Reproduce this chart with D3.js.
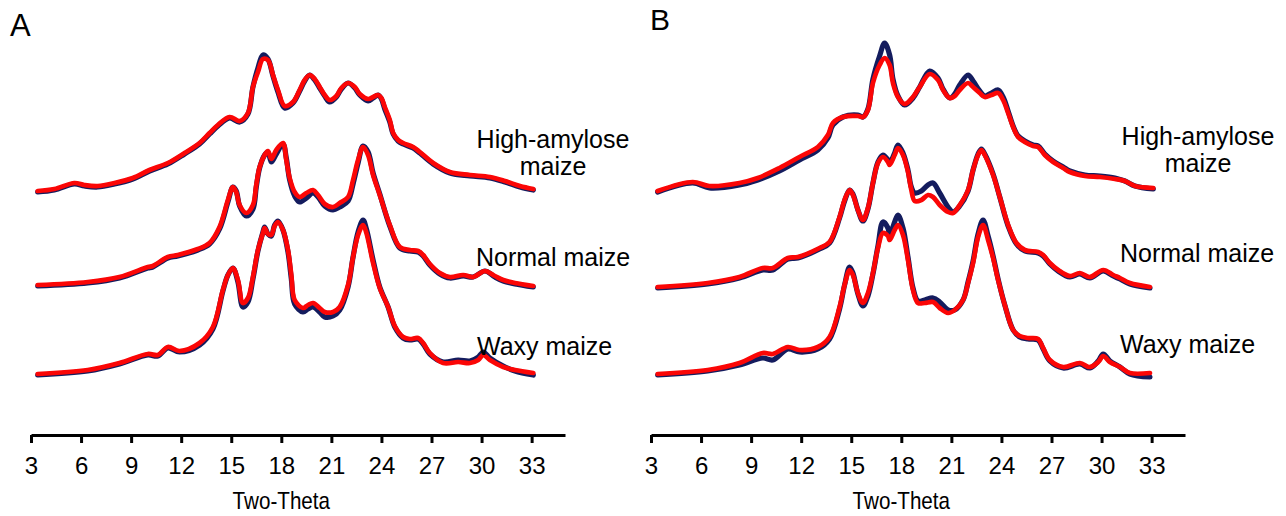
<!DOCTYPE html>
<html><head><meta charset="utf-8">
<script src="https://cdn.jsdelivr.net/npm/d3@7/dist/d3.min.js"></script>
<style>
html,body{margin:0;padding:0;background:#fff;}
text{font-family:"Liberation Sans",Arial,Helvetica,sans-serif;fill:#000;}
</style></head>
<body>
<svg id="chart" width="1286" height="516"></svg>
<script>
// ---------- data (2θ in degrees, intensity in arbitrary units above each trace's baseline) ----------
const tickValues = [3,6,9,12,15,18,21,24,27,30,33];
const axisTitle = "Two-Theta";
const panelLabels = ["A","B"];
const sampleLabels = ["High-amylose maize","Normal maize","Waxy maize"];

// Panel A
const thetaA_HA = [3.4,4.4,5.6,6.2,7.0,8.0,9.1,10.1,11.2,12.2,13.1,13.7,14.2,14.9,15.5,16.0,16.3,16.6,16.9,17.2,17.5,17.8,18.2,18.7,19.1,19.4,19.7,20.0,20.3,20.6,20.9,21.3,21.6,22.0,22.4,22.7,23.2,23.5,23.8,24.0,24.2,24.5,24.7,25.0,25.3,25.9,26.3,27.1,28.1,29.3,30.5,31.4,32.3,33.1];
const redA_HA  = [0,2,8,6,5,8,13,21,28,38,48,58,66,74,70,78,104,119,132,131,116,101,85,89,101,111,116,112,104,96,91,95,103,108,104,97,92,94,96,93,84,71,58,51,48,44,39,28,19,16,14,10,5,2];
const blueA_HA = [-1,1,7,5,4,7,12,20,27,37,47,57,65,73,69,77,104,123,136,132,115,99,83,88,100,110,116,111,103,95,89,94,102,108,103,96,90,93,96,92,82,69,57,50,47,43,38,27,18,15,13,9,4,1];

const thetaA_NM = [3.4,6.4,8.3,10.0,10.3,11.2,11.8,13.0,13.7,14.3,14.8,15.1,15.3,15.5,15.9,16.3,16.5,16.7,17.0,17.2,17.4,17.7,18.1,18.3,18.5,18.8,19.1,19.5,19.9,20.2,20.6,21.1,21.5,22.0,22.3,22.6,22.9,23.2,23.5,23.9,24.5,25.1,25.7,26.2,26.5,26.9,27.5,28.1,28.9,29.5,30.2,30.8,31.3,32.0,33.1];
const redA_NM  = [1,4,9,19,20,29,31,37,43,59,86,99,94,81,73,81,101,119,131,135,127,136,143,126,108,94,89,93,96,91,82,79,83,89,106,126,139,131,111,91,61,39,36,35,31,22,13,9,11,9,15,10,6,3,0];
const blueA_NM = [0,3,8,18,19,28,30,36,42,57,84,99,95,80,70,77,99,118,131,134,124,132,142,128,106,90,84,88,93,89,80,76,79,85,102,123,140,134,113,92,60,38,35,34,30,21,12,8,10,9,15,9,5,2,-1];

const thetaA_WX = [3.4,6.4,8.3,10.0,10.6,11.2,11.9,13.1,13.9,14.5,14.8,15.1,15.4,15.7,16.0,16.3,16.6,16.9,17.0,17.2,17.4,17.6,17.8,18.1,18.4,18.6,18.8,19.3,19.6,19.9,20.3,20.6,21.1,21.5,22.0,22.3,22.6,22.9,23.1,23.5,23.9,24.4,24.8,25.3,25.7,26.2,26.5,26.9,27.7,28.6,29.3,29.8,30.1,30.5,31.3,32.0,33.1];
const redA_WX  = [1,5,12,21,20,28,24,32,48,85,100,107,95,72,77,98,125,142,147,141,140,149,153,145,125,100,75,67,70,72,67,63,63,68,90,118,140,150,142,112,87,68,49,38,36,37,32,22,12,13,12,15,20,15,8,5,2];
const blueA_WX = [0,4,11,20,19,27,23,30,46,84,100,107,93,68,73,96,124,143,148,141,139,150,154,145,123,96,71,63,66,68,63,58,59,65,88,118,143,155,146,115,88,68,48,37,35,36,31,21,13,15,14,18,23,17,9,4,0];

// Panel B
const thetaB_HA = [3.4,5.5,6.5,8.3,9.4,10.7,11.9,13.0,13.6,13.9,14.5,15.4,15.7,16.0,16.3,16.7,17.0,17.3,17.5,17.8,18.2,18.7,19.1,19.7,20.2,20.5,20.9,21.2,21.5,22.0,22.3,22.7,23.0,23.4,23.8,24.1,24.4,24.7,25.0,25.4,25.9,26.2,26.6,27.1,27.7,28.1,29.0,29.9,30.8,31.4,32.0,33.1];
const redB_HA  = [0,9,5,8,13,23,34,44,56,68,74,75,74,81,108,126,133,126,108,94,87,94,104,117,111,101,93,95,101,108,104,98,94,96,98,91,78,64,54,49,45,44,36,29,23,19,15,14,12,10,5,3];
const blueB_HA = [-1,8,3,6,11,20,31,41,53,66,74,76,74,82,112,135,148,136,112,95,86,93,104,120,113,102,93,97,106,116,110,100,95,98,101,94,80,65,55,50,46,45,37,30,24,20,16,15,13,10,5,2];

const thetaB_NM = [3.4,6.4,8.3,9.7,10.3,11.2,11.8,13.1,13.7,14.3,14.6,14.9,15.1,15.4,15.7,16.0,16.3,16.6,16.9,17.2,17.3,17.6,17.8,18.1,18.4,18.6,18.8,19.2,19.6,19.9,20.3,20.8,21.1,21.5,22.0,22.3,22.6,22.8,23.0,23.5,23.9,24.4,24.9,25.4,26.2,26.5,26.9,27.4,28.1,28.7,29.3,30.1,30.7,31.1,31.7,32.9];
const redB_NM  = [0,4,10,19,19,29,30,39,45,70,87,97,92,77,67,79,104,124,130,125,122,132,139,132,115,97,86,87,92,90,82,75,74,82,97,117,132,137,132,112,90,62,44,37,35,32,24,17,11,14,10,17,12,9,4,0];
const blueB_NM = [-1,3,9,17,17,28,29,38,44,69,86,97,93,77,66,78,104,125,132,127,124,134,142,134,117,100,94,96,102,104,94,80,75,81,96,117,133,138,133,113,90,61,43,36,34,31,23,16,10,13,9,16,11,8,3,-1];

const thetaB_WX = [3.4,6.4,8.3,9.7,10.3,11.2,11.9,13.0,13.7,14.3,14.6,14.9,15.1,15.4,15.7,16.0,16.3,16.6,16.9,17.2,17.3,17.6,17.8,18.1,18.4,18.7,19.0,19.4,19.9,20.3,20.8,21.2,21.7,22.0,22.3,22.6,22.9,23.2,23.5,23.8,24.2,24.7,25.1,25.6,26.2,26.5,26.9,27.7,28.7,29.3,29.8,30.1,30.5,31.1,31.7,32.9];
const redB_WX  = [0,4,11,21,20,27,24,27,37,67,89,104,99,81,71,81,101,126,141,138,134,144,149,139,114,84,71,71,72,66,61,64,74,91,111,137,149,134,116,94,69,44,38,36,35,26,14,7,11,7,12,18,12,7,1,1];
const blueB_WX = [-1,3,9,16,14,25,22,25,35,65,89,107,101,80,68,78,100,128,152,146,138,152,159,146,117,86,73,74,76,72,64,64,74,92,113,140,154,138,118,95,69,44,37,35,34,25,13,6,10,6,13,20,13,7,0,-3];

// vertical stacking offsets (intensity units) for HA, Normal, Waxy
const offsetsA = [244,149,60];
const offsetsB = [244,148,61];

// ---------- drawing ----------
const svg = d3.select("#chart");
const BLUE = "#141c5e", RED = "#fb0606";
const y = d3.scaleLinear().domain([0,420]).range([435,15]);

const panels = [
  {label: panelLabels[0], range:[31,565], offsets: offsetsA, lx:10, ly:36, lsize:31,
   series:[[thetaA_HA,blueA_HA,redA_HA],[thetaA_NM,blueA_NM,redA_NM],[thetaA_WX,blueA_WX,redA_WX]],
   labelPos:{ha:[553,148,175], nm:[476,266], wx:[477,355]}},
  {label: panelLabels[1], range:[651,1185], offsets: offsetsB, lx:650, ly:30, lsize:30,
   series:[[thetaB_HA,blueB_HA,redB_HA],[thetaB_NM,blueB_NM,redB_NM],[thetaB_WX,blueB_WX,redB_WX]],
   labelPos:{ha:[1198,145,172], nm:[1120,262], wx:[1120,353]}}
];

panels.forEach(p => {
  const x = d3.scaleLinear().domain([3,35]).range(p.range);
  const g = svg.append("g");

  p.series.forEach((s, i) => {
    const off = p.offsets[i];
    const line = d3.line()
      .x(d => x(d[0]))
      .y(d => y(off + d[1]))
      .curve(d3.curveCatmullRom.alpha(0.5));
    const blueData = s[0].map((t,k) => [t, s[1][k]]);
    const redData  = s[0].map((t,k) => [t, s[2][k]]);
    g.append("path").datum(blueData).attr("d", line)
      .attr("fill","none").attr("stroke",BLUE).attr("stroke-width",5.2)
      .attr("stroke-linejoin","round").attr("stroke-linecap","round");
    g.append("path").datum(redData).attr("d", line)
      .attr("fill","none").attr("stroke",RED).attr("stroke-width",4.7)
      .attr("stroke-linejoin","round").attr("stroke-linecap","round");
  });

  // axis
  const ax = g.append("g").attr("transform","translate(0,435)")
    .call(d3.axisBottom(x).tickValues(tickValues).tickSize(8).tickSizeOuter(0));
  ax.select(".domain").attr("stroke","#000").attr("stroke-width",3);
  ax.selectAll(".tick line").attr("stroke","#000").attr("stroke-width",3);
  ax.selectAll(".tick text").attr("y",39).attr("dy",null)
    .style("font-size","24px").attr("fill","#000")
    .style("font-family",'"Liberation Sans",Arial,sans-serif');

  g.append("text")
    .attr("transform", `translate(${x(18)},509) scale(0.86,1)`)
    .attr("text-anchor","middle")
    .style("font-size","24px").text(axisTitle);

  g.append("text").attr("x", p.lx).attr("y", p.ly)
    .style("font-size", p.lsize+"px").text(p.label);

  // sample labels
  const words = sampleLabels[0].split(" ");
  g.append("text").attr("x",p.labelPos.ha[0]).attr("y",p.labelPos.ha[1])
    .attr("text-anchor","middle").style("font-size","25px").text(words[0]);
  g.append("text").attr("x",p.labelPos.ha[0]).attr("y",p.labelPos.ha[2])
    .attr("text-anchor","middle").style("font-size","25px").text(words[1]);
  g.append("text").attr("x",p.labelPos.nm[0]).attr("y",p.labelPos.nm[1])
    .style("font-size","25px").text(sampleLabels[1]);
  g.append("text").attr("x",p.labelPos.wx[0]).attr("y",p.labelPos.wx[1])
    .style("font-size","25px").text(sampleLabels[2]);
});
</script>
</body></html>
